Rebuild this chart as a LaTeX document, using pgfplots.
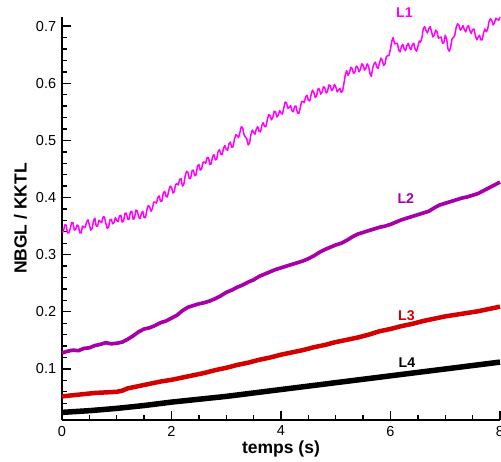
\documentclass[border=0pt]{standalone}
\usepackage{pgfplots}
\pgfplotsset{compat=1.18}
\usepackage{fontspec}
\setmainfont{Liberation Sans}
\definecolor{cL1}{RGB}{255,0,255}
\definecolor{cL2}{RGB}{168,0,168}
\definecolor{cL3}{RGB}{212,0,0}
\begin{document}
\begin{tikzpicture}
\begin{axis}[
  scale only axis, width=262.8pt, height=241.8pt,
  xmin=0, xmax=8, ymin=0.0107, ymax=0.716,
  axis x line*=bottom, axis y line*=left,
  axis line style={line width=1.2pt},
  tick align=inside,
  major tick length=5.5pt, minor tick length=3pt,
  every tick/.style={black, line width=0.8pt},
  xtick={0,2,4,6,8},
  minor xtick={0.5,1,1.5,2.5,3,3.5,4.5,5,5.5,6.5,7,7.5},
  ytick={0.1,0.2,0.3,0.4,0.5,0.6,0.7},
  minor ytick={0.02,0.04,0.06,0.08,0.12,0.14,0.16,0.18,0.22,0.24,0.26,0.28,0.32,0.34,0.36,0.38,0.42,0.44,0.46,0.48,0.52,0.54,0.56,0.58,0.62,0.64,0.66,0.68},
  yticklabel style={/pgf/number format/fixed, /pgf/number format/precision=1, /pgf/number format/fixed zerofill},
  /pgf/number format/assume math mode=true,
  tick label style={font=\fontsize{8.7}{10}\selectfont},
  xlabel={temps (s)}, ylabel={NBGL / KKTL},
  label style={font=\fontsize{10.5}{12}\selectfont\bfseries},
  xlabel style={yshift=4pt},
  ylabel style={yshift=-1.5pt},
  clip=false,
]
\addplot[cL1, line width=0.9pt, line join=round] table {
0.000 0.340
0.025 0.340
0.050 0.352
0.075 0.352
0.100 0.338
0.125 0.338
0.150 0.345
0.175 0.356
0.200 0.356
0.225 0.343
0.250 0.344
0.275 0.352
0.300 0.350
0.325 0.338
0.350 0.338
0.375 0.350
0.400 0.348
0.425 0.348
0.450 0.358
0.475 0.361
0.500 0.352
0.525 0.343
0.550 0.346
0.575 0.359
0.600 0.364
0.625 0.350
0.650 0.350
0.675 0.360
0.700 0.358
0.725 0.356
0.750 0.366
0.775 0.366
0.800 0.355
0.825 0.346
0.850 0.348
0.875 0.361
0.900 0.362
0.925 0.354
0.950 0.356
0.975 0.365
1.000 0.360
1.025 0.358
1.050 0.368
1.075 0.369
1.100 0.357
1.125 0.359
1.150 0.372
1.175 0.373
1.200 0.362
1.225 0.362
1.250 0.375
1.275 0.376
1.300 0.362
1.325 0.364
1.350 0.378
1.375 0.377
1.400 0.366
1.425 0.363
1.450 0.372
1.475 0.376
1.500 0.365
1.525 0.365
1.550 0.378
1.575 0.386
1.600 0.384
1.625 0.376
1.650 0.380
1.675 0.392
1.700 0.392
1.725 0.390
1.750 0.400
1.775 0.403
1.800 0.393
1.825 0.394
1.850 0.408
1.875 0.411
1.900 0.402
1.925 0.401
1.950 0.412
1.975 0.420
2.000 0.418
2.025 0.408
2.050 0.410
2.075 0.423
2.100 0.424
2.125 0.422
2.150 0.432
2.175 0.433
2.200 0.420
2.225 0.423
2.250 0.438
2.275 0.446
2.300 0.444
2.325 0.433
2.350 0.434
2.375 0.447
2.400 0.448
2.425 0.438
2.450 0.440
2.475 0.455
2.500 0.458
2.525 0.448
2.550 0.450
2.575 0.462
2.600 0.462
2.625 0.460
2.650 0.470
2.675 0.470
2.700 0.458
2.725 0.459
2.750 0.472
2.775 0.475
2.800 0.466
2.825 0.467
2.850 0.480
2.875 0.484
2.900 0.476
2.925 0.475
2.950 0.486
2.975 0.491
3.000 0.484
3.025 0.483
3.050 0.494
3.075 0.497
3.100 0.488
3.125 0.489
3.150 0.502
3.175 0.510
3.200 0.508
3.225 0.505
3.250 0.514
3.275 0.524
3.300 0.522
3.325 0.510
3.350 0.506
3.375 0.503
3.400 0.492
3.425 0.495
3.450 0.510
3.475 0.518
3.500 0.514
3.525 0.511
3.550 0.520
3.575 0.524
3.600 0.516
3.625 0.515
3.650 0.526
3.675 0.531
3.700 0.524
3.725 0.524
3.750 0.536
3.775 0.545
3.800 0.544
3.825 0.536
3.850 0.540
3.875 0.551
3.900 0.550
3.925 0.541
3.950 0.544
3.975 0.552
4.000 0.548
4.025 0.546
4.050 0.556
4.075 0.567
4.100 0.566
4.125 0.556
4.150 0.558
4.175 0.561
4.200 0.552
4.225 0.550
4.250 0.560
4.275 0.560
4.300 0.548
4.325 0.547
4.350 0.556
4.375 0.568
4.400 0.568
4.425 0.566
4.450 0.576
4.475 0.579
4.500 0.570
4.525 0.569
4.550 0.580
4.575 0.588
4.600 0.584
4.625 0.575
4.650 0.578
4.675 0.590
4.700 0.590
4.725 0.581
4.750 0.584
4.775 0.594
4.800 0.592
4.825 0.583
4.850 0.586
4.875 0.597
4.900 0.596
4.925 0.587
4.950 0.590
4.975 0.598
5.000 0.594
5.025 0.585
5.050 0.588
5.075 0.591
5.100 0.584
5.125 0.586
5.150 0.600
5.175 0.615
5.200 0.622
5.225 0.614
5.250 0.618
5.275 0.628
5.300 0.626
5.325 0.617
5.350 0.620
5.375 0.630
5.400 0.628
5.425 0.620
5.450 0.624
5.475 0.634
5.500 0.632
5.525 0.623
5.550 0.626
5.575 0.634
5.600 0.630
5.625 0.617
5.650 0.612
5.675 0.627
5.700 0.634
5.725 0.637
5.750 0.628
5.775 0.626
5.800 0.636
5.825 0.644
5.850 0.640
5.875 0.631
5.900 0.634
5.925 0.647
5.950 0.648
5.975 0.649
6.000 0.660
6.025 0.674
6.050 0.680
6.075 0.669
6.100 0.670
6.125 0.670
6.150 0.658
6.175 0.655
6.200 0.664
6.225 0.668
6.250 0.660
6.275 0.657
6.300 0.666
6.325 0.670
6.350 0.662
6.375 0.659
6.400 0.668
6.425 0.670
6.450 0.660
6.475 0.656
6.500 0.664
6.525 0.674
6.550 0.672
6.575 0.680
6.600 0.696
6.625 0.699
6.650 0.692
6.675 0.688
6.700 0.696
6.725 0.699
6.750 0.690
6.775 0.681
6.800 0.684
6.825 0.693
6.850 0.690
6.875 0.679
6.900 0.680
6.925 0.681
6.950 0.670
6.975 0.671
7.000 0.684
7.025 0.678
7.050 0.660
7.075 0.656
7.100 0.664
7.125 0.678
7.150 0.680
7.175 0.684
7.200 0.698
7.225 0.704
7.250 0.702
7.275 0.693
7.300 0.696
7.325 0.701
7.350 0.694
7.375 0.690
7.400 0.698
7.425 0.701
7.450 0.692
7.475 0.687
7.500 0.694
7.525 0.695
7.550 0.684
7.575 0.676
7.600 0.680
7.625 0.684
7.650 0.676
7.675 0.676
7.700 0.688
7.725 0.695
7.750 0.690
7.775 0.695
7.800 0.708
7.825 0.713
7.850 0.710
7.875 0.702
7.900 0.706
7.925 0.714
7.950 0.712
7.975 0.710
8.000 0.716
};
\addplot[cL2, line width=2.2pt, line join=round] table {
0.0 0.128
0.1 0.131
0.2 0.133
0.3 0.132
0.4 0.136
0.5 0.137
0.6 0.141
0.7 0.143
0.8 0.146
0.9 0.144
1.0 0.145
1.1 0.147
1.2 0.152
1.3 0.158
1.4 0.165
1.5 0.170
1.6 0.172
1.7 0.176
1.8 0.181
1.9 0.184
2.0 0.189
2.1 0.194
2.2 0.202
2.3 0.208
2.4 0.211
2.5 0.214
2.6 0.216
2.7 0.219
2.8 0.223
2.9 0.228
3.0 0.234
3.1 0.238
3.2 0.243
3.3 0.247
3.4 0.252
3.5 0.256
3.6 0.262
3.7 0.266
3.8 0.270
3.9 0.274
4.0 0.277
4.1 0.280
4.2 0.283
4.3 0.286
4.4 0.289
4.5 0.293
4.6 0.298
4.7 0.304
4.8 0.309
4.9 0.313
5.0 0.317
5.1 0.320
5.2 0.325
5.3 0.331
5.4 0.336
5.5 0.339
5.6 0.342
5.7 0.345
5.8 0.348
5.9 0.350
6.0 0.353
6.1 0.357
6.2 0.361
6.3 0.364
6.4 0.367
6.5 0.370
6.6 0.373
6.7 0.376
6.8 0.382
6.9 0.387
7.0 0.390
7.1 0.393
7.2 0.396
7.3 0.399
7.4 0.401
7.5 0.404
7.6 0.407
7.7 0.412
7.8 0.417
7.9 0.422
8.0 0.427
};
\addplot[cL3, line width=2.7pt, line join=round] table {
0.0 0.052
0.2 0.054
0.4 0.056
0.6 0.058
0.8 0.059
1.0 0.060
1.1 0.062
1.2 0.066
1.4 0.070
1.6 0.074
1.8 0.078
2.0 0.081
2.2 0.085
2.4 0.089
2.6 0.093
2.8 0.098
3.0 0.102
3.2 0.107
3.4 0.111
3.6 0.116
3.8 0.120
4.0 0.125
4.2 0.129
4.4 0.133
4.6 0.138
4.8 0.142
5.0 0.147
5.2 0.151
5.4 0.155
5.6 0.160
5.8 0.166
6.0 0.170
6.2 0.175
6.4 0.179
6.6 0.184
6.8 0.188
7.0 0.192
7.2 0.195
7.4 0.198
7.6 0.201
7.8 0.205
8.0 0.209
};
\addplot[black, line width=3.3pt, line join=round] table {
0.0 0.024
0.5 0.027
1.0 0.031
1.5 0.036
2.0 0.042
2.5 0.047
3.0 0.052
3.5 0.058
4.0 0.064
4.5 0.070
5.0 0.076
5.5 0.082
6.0 0.088
6.5 0.094
7.0 0.100
7.5 0.106
8.0 0.112
};
\node[font=\fontsize{8.5}{10}\selectfont\bfseries, text=cL1] at (axis cs:6.255,0.723) {L1};
\node[font=\fontsize{8.5}{10}\selectfont\bfseries, text=cL2] at (axis cs:6.28,0.398) {L2};
\node[font=\fontsize{8.5}{10}\selectfont\bfseries, text=cL3] at (axis cs:6.29,0.193) {L3};
\node[font=\fontsize{8.5}{10}\selectfont\bfseries, text=black] at (axis cs:6.30,0.1105) {L4};
\coordinate (O) at (rel axis cs:0,0);
\end{axis}
\pgfresetboundingbox
\path[use as bounding box] ([xshift=-37.2pt, yshift=-25.2pt]O) rectangle ++(300.6pt,277.2pt);
\end{tikzpicture}
\end{document}
